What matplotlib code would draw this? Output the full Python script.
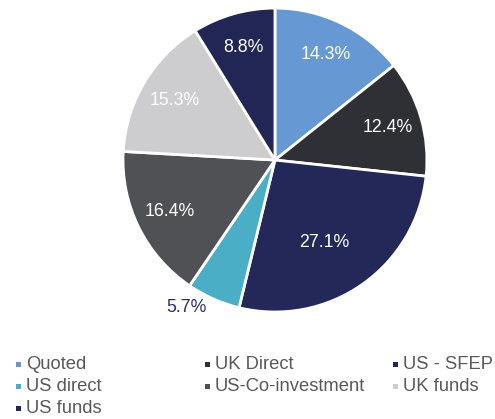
import matplotlib
matplotlib.use("Agg")
import numpy as np
import matplotlib.pyplot as plt
from matplotlib.patches import Rectangle

plt.rcParams['font.family'] = ['Liberation Sans', 'DejaVu Sans']

# data
labels = ['Quoted', 'UK Direct', 'US - SFEP', 'US direct',
          'US-Co-investment', 'UK funds', 'US funds']
shares = [14.3, 12.4, 27.1, 5.7, 16.4, 15.3, 8.8]
colors = ['#6699d3', '#2e3035', '#232858', '#4aaec6',
          '#505155', '#cdcccf', '#222654']

fig = plt.figure(figsize=(4.95, 4.19), dpi=100)
ax = fig.add_axes([0.2485, 0.2553, 0.614, 0.7255])

wedges, texts, autotexts = ax.pie(
    shares, colors=colors, startangle=90, counterclock=False,
    autopct='%.1f%%', pctdistance=0.77,
    wedgeprops=dict(edgecolor='white', linewidth=2.0),
    textprops=dict(color='white', fontsize=12.8))
ax.set_xlim(-1, 1)
ax.set_ylim(-1, 1)
ax.set_aspect('equal')


def move_label(i, r, dang):
    # place label i at radius r, rotated dang degrees from the slice middle
    w = wedges[i]
    ang = np.deg2rad((w.theta1 + w.theta2) / 2 + dang)
    autotexts[i].set_position((r * np.cos(ang), r * np.sin(ang)))


# Excel-style label nudges
move_label(2, 0.63, -4)
move_label(3, 1.13, -7)
autotexts[3].set_color('#2b2f6b')

# legend laid out row by row, three columns
col_x = [15, 204, 392]
row_y = [364, 386, 408]
W, H = 495, 419
for i, (lab, col) in enumerate(zip(labels, colors)):
    r, c = divmod(i, 3)
    px, py = col_x[c], row_y[r]
    fig.patches.append(Rectangle(((px + 1) / W, 1 - (py + 2.5) / H), 5 / W, 5 / H,
                                 transform=fig.transFigure, facecolor=col,
                                 edgecolor='none'))
    fig.text((px + 11) / W, 1 - py / H, lab, fontsize=13.2, color='#595959',
             va='center', ha='left')

fig.savefig('out.png', dpi=100)
